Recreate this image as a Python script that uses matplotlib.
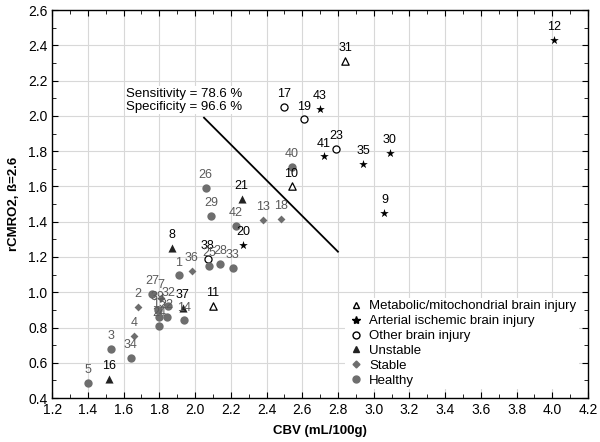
import matplotlib
matplotlib.use('Agg')
import matplotlib.pyplot as plt
from matplotlib.ticker import MultipleLocator
from matplotlib.lines import Line2D

plt.rcParams['font.family'] = ['Liberation Sans', 'DejaVu Sans']

# values
# Metabolic/mitochondrial brain injury (open triangles)
meta_ids = ['31', '10', '11']
meta_x = [2.84, 2.54, 2.10]
meta_y = [2.31, 1.60, 0.92]

# Arterial ischemic brain injury (stars)
art_ids = ['12', '43', '41', '35', '30', '9', '20']
art_x = [4.01, 2.70, 2.72, 2.94, 3.09, 3.06, 2.27]
art_y = [2.43, 2.04, 1.77, 1.73, 1.79, 1.45, 1.27]

# Other brain injury (open circles)
oth_ids = ['17', '19', '23', '38']
oth_x = [2.50, 2.61, 2.79, 2.07]
oth_y = [2.05, 1.98, 1.81, 1.19]

# Unstable (filled triangles)
uns_ids = ['21', '8', '37', '16']
uns_x = [2.26, 1.87, 1.93, 1.52]
uns_y = [1.53, 1.25, 0.91, 0.51]

# Stable (gray diamonds)
stb_ids = ['13', '18', '36', '2', '4', '7']
stb_x = [2.38, 2.48, 1.98, 1.68, 1.66, 1.81]
stb_y = [1.41, 1.415, 1.12, 0.915, 0.75, 0.965]

# Healthy (gray circles)
hea_ids = ['40', '26', '29', '42', '25', '28', '33', '1', '27', '32', '14',
           '39', '15', '22', '24', '3', '34', '5']
hea_x = [2.54, 2.06, 2.09, 2.23, 2.08, 2.14, 2.21, 1.91, 1.76, 1.85, 1.94,
         1.79, 1.80, 1.84, 1.80, 1.53, 1.64, 1.40]
hea_y = [1.71, 1.59, 1.43, 1.375, 1.15, 1.163, 1.14, 1.095, 0.99, 0.92, 0.84,
         0.90, 0.86, 0.857, 0.81, 0.68, 0.625, 0.483]

# threshold line
line_x = [2.05, 2.80]
line_y = [1.99, 1.23]

gray = '#6e6e6e'
label_gray = '#5a5a5a'

fig = plt.figure(figsize=(6, 4.42), dpi=100)
ax = fig.add_axes([0.087, 0.0995, 0.893, 0.8775])

groups = [
    (meta_x, meta_y, meta_ids, dict(marker='^', s=28, facecolors='white', edgecolors='black', linewidths=0.9), 'black'),
    (art_x, art_y, art_ids, dict(marker='*', s=42, color='black', linewidths=0), 'black'),
    (oth_x, oth_y, oth_ids, dict(marker='o', s=26, facecolors='white', edgecolors='black', linewidths=0.9), 'black'),
    (uns_x, uns_y, uns_ids, dict(marker='^', s=34, color='#222222', linewidths=0), 'black'),
    (stb_x, stb_y, stb_ids, dict(marker='D', s=16, color=gray, linewidths=0), label_gray),
    (hea_x, hea_y, hea_ids, dict(marker='o', s=36, color=gray, linewidths=0), label_gray),
]

for xs, ys, ids, style, tcol in groups:
    ax.scatter(xs, ys, zorder=3, **style)
    for x, y, t in zip(xs, ys, ids):
        ax.annotate(t, (x, y), xytext=(0, 5), textcoords='offset points',
                    ha='center', va='bottom', fontsize=9, color=tcol, zorder=4)

ax.plot(line_x, line_y, color='black', lw=1.3, zorder=2)

ax.text(1.615, 2.09, 'Sensitivity = 78.6 %\nSpecificity = 96.6 %', fontsize=9.5,
        ha='left', va='center', linespacing=1.1,
        bbox=dict(facecolor='white', edgecolor='none', pad=1), zorder=5)

ax.set_xlim(1.2, 4.2)
ax.set_ylim(0.4, 2.6)
ax.xaxis.set_major_locator(MultipleLocator(0.2))
ax.xaxis.set_minor_locator(MultipleLocator(0.1))
ax.yaxis.set_major_locator(MultipleLocator(0.2))
ax.yaxis.set_minor_locator(MultipleLocator(0.1))
ax.xaxis.set_major_formatter(plt.FormatStrFormatter('%.1f'))
ax.yaxis.set_major_formatter(plt.FormatStrFormatter('%.1f'))
ax.tick_params(which='both', direction='in', top=True, right=True, labelsize=10)
ax.tick_params(which='major', length=4)
ax.tick_params(which='minor', length=3)
ax.grid(True, which='major', color='#d8d8d8', lw=0.8, zorder=0)
for sp in ax.spines.values():
    sp.set_linewidth(1.0)

ax.set_xlabel('CBV (mL/100g)', fontsize=9.5, fontweight='bold', labelpad=6)
ax.set_ylabel('rCMRO2, ß=2.6', fontsize=9.5, fontweight='bold', labelpad=6)

handles = [
    Line2D([], [], ls='none', marker='^', ms=5, mfc='white', mec='black', label='Metabolic/mitochondrial brain injury'),
    Line2D([], [], ls='none', marker='*', ms=6, color='black', label='Arterial ischemic brain injury'),
    Line2D([], [], ls='none', marker='o', ms=5, mfc='white', mec='black', label='Other brain injury'),
    Line2D([], [], ls='none', marker='^', ms=5, color='#222222', label='Unstable'),
    Line2D([], [], ls='none', marker='D', ms=3.5, color=gray, label='Stable'),
    Line2D([], [], ls='none', marker='o', ms=5, color=gray, label='Healthy'),
]
ax.legend(handles=handles, loc='lower right', bbox_to_anchor=(0.995, 0.005), fontsize=9.5,
          frameon=True, framealpha=1, edgecolor='none', handletextpad=0.4,
          labelspacing=0.2, borderpad=0.2, handlelength=1.2)

fig.savefig('out.png', dpi=100)
